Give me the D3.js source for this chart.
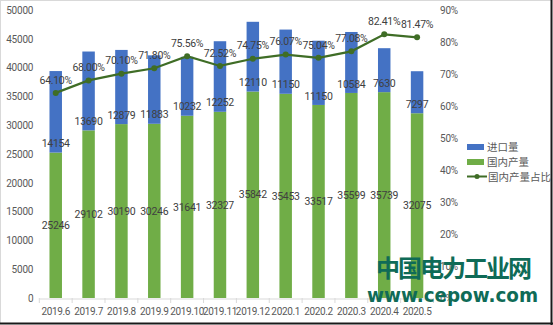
<!DOCTYPE html>
<html>
<head>
<meta charset="utf-8">
<script src="https://cdn.jsdelivr.net/npm/d3@7"></script>
<style>
  html, body { margin: 0; padding: 0; background: #fff; }
  svg { display: block; font-family: "Noto Sans CJK SC", "Noto Sans", sans-serif; }
</style>
</head>
<body>
<svg id="chart" width="553" height="325"></svg>
<script>
// Monthly volumes (imports stacked on domestic output) and the domestic share
const months = ["2019.6", "2019.7", "2019.8", "2019.9", "2019.10", "2019.11", "2019.12",
                "2020.1", "2020.2", "2020.3", "2020.4", "2020.5"];
const domestic = [25246, 29102, 30190, 30246, 31641, 32327, 35842, 35453, 33517, 35599, 35739, 32075];
const imports  = [14154, 13690, 12879, 11883, 10232, 12252, 12110, 11150, 11150, 10584, 7630, 7297];
const share    = [64.10, 68.00, 70.10, 71.80, 75.56, 72.52, 74.75, 76.07, 75.04, 77.08, 82.41, 81.47];
const leftTicks  = [0, 5000, 10000, 15000, 20000, 25000, 30000, 35000, 40000, 45000, 50000];
const rightTicks = [0, 10, 20, 30, 40, 50, 60, 70, 80, 90];
const seriesNames = ["进口量", "国内产量", "国内产量占比"];

const BLUE = "#4472C4", GREEN = "#70AD47", LINE = "#3F6D26", TEXT = "#595959", LABEL = "#404040";
const NUM_FONT = "Roboto, 'Noto Sans', sans-serif";

const svg = d3.select("#chart");
const W = 553, H = 325;
const plot = { left: 39.3, right: 433.5, top: 10, bottom: 298 };

// frame
svg.append("rect").attr("x", 0.5).attr("y", 0.5).attr("width", W - 2).attr("height", H - 2)
  .attr("fill", "#fff").attr("stroke", "#d9d9d9");
svg.append("line").attr("x1", 0).attr("x2", W).attr("y1", H - 1.5).attr("y2", H - 1.5)
  .attr("stroke", "#1a1a1a").attr("stroke-width", 2);
svg.append("line").attr("x1", W - 1.5).attr("x2", W - 1.5).attr("y1", 0).attr("y2", H)
  .attr("stroke", "#1a1a1a").attr("stroke-width", 2);

const x = d3.scaleBand().domain(months).range([plot.left, plot.right]).paddingInner(0.62).paddingOuter(0.31);
const y = d3.scaleLinear().domain([0, 50000]).range([plot.bottom, plot.top]);
const y2 = d3.scaleLinear().domain([0, 90]).range([plot.bottom, plot.top]);

function styleNums(sel, size) {
  sel.attr("fill", TEXT).style("font-size", size).style("font-family", NUM_FONT).attr("letter-spacing", "-0.2px");
}

// left axis labels
const gl = svg.append("g").attr("transform", `translate(${plot.left - 6},0)`)
  .call(d3.axisLeft(y).tickValues(leftTicks).tickSize(0).tickPadding(0).tickFormat(d3.format("d")));
gl.select(".domain").remove();
styleNums(gl.selectAll("text"), "10px");

// right axis labels
const gr = svg.append("g").attr("transform", `translate(440,0)`)
  .call(d3.axisRight(y2).tickValues(rightTicks).tickSize(0).tickPadding(0).tickFormat(d => d + "%"));
gr.select(".domain").remove();
styleNums(gr.selectAll("text"), "10px");

// bars
const rows = months.map((m, i) => ({ m, d: domestic[i], im: imports[i], s: share[i] }));
const bw = x.bandwidth();
svg.append("g").selectAll("rect").data(rows).join("rect")
  .attr("x", r => x(r.m)).attr("width", bw)
  .attr("y", r => y(r.d)).attr("height", r => y(0) - y(r.d))
  .attr("fill", GREEN);
svg.append("g").selectAll("rect").data(rows).join("rect")
  .attr("x", r => x(r.m)).attr("width", bw)
  .attr("y", r => y(r.d + r.im)).attr("height", r => y(r.d) - y(r.d + r.im))
  .attr("fill", BLUE);

// x axis
const gx = svg.append("g").attr("transform", `translate(0,${plot.bottom + 0.5})`)
  .call(d3.axisBottom(x).tickSize(0).tickPadding(9));
gx.select(".domain").attr("stroke", "#d9d9d9");
styleNums(gx.selectAll("text"), "10px");
gx.selectAll("text").attr("letter-spacing", "-0.35px");
const step = x.step();
svg.append("g").selectAll("line").data(d3.range(months.length + 1)).join("line")
  .attr("x1", i => plot.left + i * step).attr("x2", i => plot.left + i * step)
  .attr("y1", plot.bottom).attr("y2", plot.bottom + 5)
  .attr("stroke", "#d9d9d9");

// share line
const cx = m => x(m) + bw / 2;
svg.append("path").datum(rows)
  .attr("fill", "none").attr("stroke", LINE).attr("stroke-width", 2.2)
  .attr("d", d3.line().x(r => cx(r.m)).y(r => y2(r.s)));
svg.append("g").selectAll("circle").data(rows).join("circle")
  .attr("cx", r => cx(r.m)).attr("cy", r => y2(r.s)).attr("r", 3)
  .attr("fill", LINE);

// value labels
const lbl = svg.append("g").attr("fill", LABEL).style("font-size", "10.5px")
  .style("font-family", NUM_FONT).attr("letter-spacing", "-0.3px").attr("text-anchor", "middle");
lbl.selectAll(".dl").data(rows).join("text")
  .attr("x", r => cx(r.m)).attr("y", r => (y(0) + y(r.d)) / 2).attr("dy", "0.35em")
  .text(r => r.d);
lbl.selectAll(".il").data(rows).join("text")
  .attr("x", r => cx(r.m)).attr("y", r => y(r.d) - 9).attr("dy", "0.35em")
  .text(r => r.im);
lbl.selectAll(".sl").data(rows).join("text")
  .attr("x", r => cx(r.m)).attr("y", r => y2(r.s) - 13).attr("dy", "0.35em")
  .text(r => r.s.toFixed(2) + "%");

// legend
const lg = svg.append("g").attr("transform", "translate(467,147)")
  .style("font-size", "10.5px").attr("fill", TEXT);
lg.append("rect").attr("x", 0).attr("y", -3).attr("width", 17).attr("height", 6).attr("fill", BLUE);
lg.append("rect").attr("x", 0).attr("y", 12).attr("width", 17).attr("height", 6).attr("fill", GREEN);
lg.append("line").attr("x1", 0).attr("x2", 20).attr("y1", 29.5).attr("y2", 29.5).attr("stroke", LINE).attr("stroke-width", 2);
lg.append("circle").attr("cx", 10).attr("cy", 29.5).attr("r", 2.5).attr("fill", LINE);
lg.selectAll("text").data(seriesNames).join("text")
  .attr("x", (d, i) => i === 2 ? 21 : 20).attr("y", (d, i) => i * 15).attr("dy", "0.35em").text(d => d);

// site mark
const wm = svg.append("g").attr("fill", "#0F6B57").style("font-weight", "bold");
wm.append("text").attr("x", 376).attr("y", 269).attr("dy", "0.35em")
  .style("font-size", "24px").style("font-family", "'Noto Sans CJK SC', sans-serif")
  .attr("textLength", 156).attr("lengthAdjust", "spacing").text("中国电力工业网");
wm.append("text").attr("x", 367).attr("y", 295).attr("dy", "0.35em")
  .style("font-size", "19px").style("font-family", "'DejaVu Sans', sans-serif")
  .attr("textLength", 171).attr("lengthAdjust", "spacingAndGlyphs").text("www.cepow.com");
</script>
</body>
</html>
